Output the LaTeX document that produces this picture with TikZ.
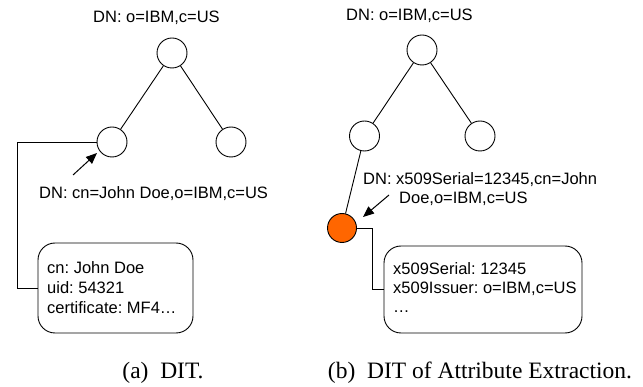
\documentclass[tikz,border=0pt]{standalone}
\usepackage{fontspec}
\setmainfont{Liberation Sans}
\newfontfamily\capfont{Liberation Serif}
\usetikzlibrary{arrows.meta}
\definecolor{orangefill}{RGB}{255,102,0}
\frenchspacing
\tikzset{
  treenode/.style={circle, draw=black, line width=0.9pt, minimum size=30pt, inner sep=0pt},
  hitnode/.style={treenode, fill=orangefill, minimum size=29pt},
  edge/.style={draw=black, line width=0.9pt},
  arr/.style={draw=black, line width=1pt, -{Triangle[length=11pt,width=9pt]}},
  entrybox/.style={draw=black, line width=0.9pt, rounded corners=17pt, inner sep=0pt},
  txt/.style={anchor=base west, inner sep=0pt, font=\fontsize{16.5}{20}\selectfont},
  captxt/.style={anchor=base, inner sep=0pt, font=\capfont\fontsize{23.5}{28}\selectfont}
}
\begin{document}
\begin{tikzpicture}[x=1pt, y=-1pt]
\useasboundingbox (0,0) rectangle (643,387);
% ---------- (a) ----------
\node[txt] (ta) at (93,23) {DN: o=IBM,c=US};
\node[treenode] (ra) at (172,53) {};
\node[treenode] (la) at (112,142) {};
\node[treenode] (rca) at (231,142) {};
\draw[edge] (ra) -- (la);
\draw[edge] (ra) -- (rca);
\coordinate (arra) at (73,175);
\coordinate (arratip) at (97,153);
\draw[arr] (arra) -- (arratip);
\node[txt] (dna) at (39,199) {DN: cn=John Doe,o=IBM,c=US};
\node[entrybox, minimum width=155pt, minimum height=90pt] (boxa) at (115.5,288) {};
\node[txt] (a1) at (47,274) {cn: John Doe};
\node[txt] (a2) at (47,294) {uid: 54321};
\node[txt] (a3) at (47,314) {certificate: MF4\ldots};
\coordinate (ca) at (17,142);
\draw[edge] (la.west) -- (ca) |- (boxa.west);
\node[captxt] (capa) at (163,379) {(a)\ \ DIT.};
% ---------- (b) ----------
\node[txt] (tb) at (346,21) {DN: o=IBM,c=US};
\node[treenode] (rb) at (422,50) {};
\node[treenode] (lb) at (364.5,136) {};
\node[treenode] (rcb) at (480,136) {};
\draw[edge] (rb) -- (lb);
\draw[edge] (rb) -- (rcb);
\node[hitnode] (oc) at (342,228) {};
\draw[edge] (lb) -- (oc);
\node[txt] (dnb1) at (363,185) {DN: x509Serial=12345,cn=John};
\node[txt] (dnb2) at (399,204) {Doe,o=IBM,c=US};
\coordinate (arrb) at (389,195);
\coordinate (arrbtip) at (363,217);
\draw[arr] (arrb) -- (arrbtip);
\node[entrybox, minimum width=198pt, minimum height=87pt] (boxb) at (483,289.5) {};
\node[txt] (b1) at (393,275) {x509Serial: 12345};
\node[txt] (b2) at (393,294) {x509Issuer: o=IBM,c=US};
\node[txt] (b3) at (393,313) {\ldots};
\coordinate (cb) at (372,228);
\draw[edge] (oc.east) -- (cb) |- (boxb.west);
\node[captxt] (capb) at (480,379) {(b)\ \ DIT of Attribute Extraction.};
\end{tikzpicture}
\end{document}
